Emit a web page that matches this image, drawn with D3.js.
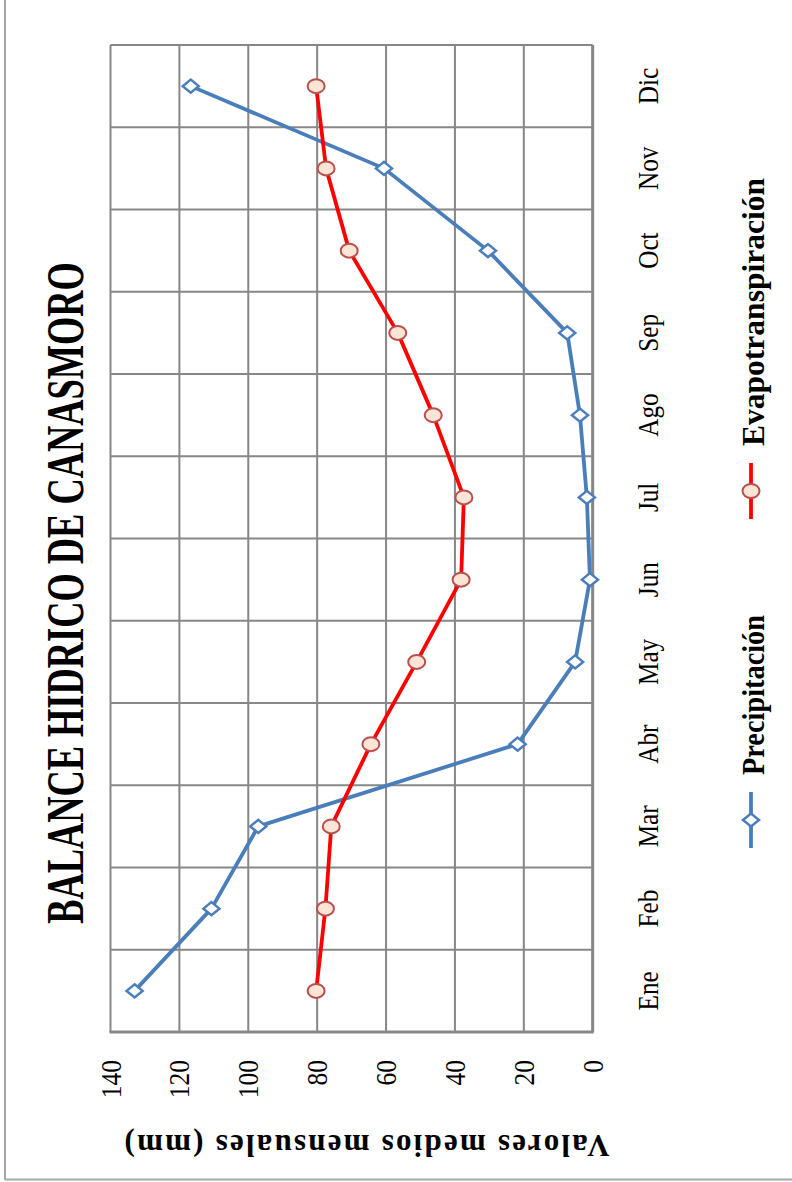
<!DOCTYPE html>
<html>
<head>
<meta charset="utf-8">
<script src="https://cdn.jsdelivr.net/npm/d3@7/dist/d3.min.js"></script>
<style>
  html, body { margin: 0; padding: 0; background: #fff; }
  svg { display: block; }
  text { font-family: "Liberation Serif", "Times New Roman", serif; fill: #000; }
</style>
</head>
<body>
<svg id="chart" width="792" height="1182"></svg>
<script>
// Monthly water balance, Canasmoro (mm)
const months = ["Ene", "Feb", "Mar", "Abr", "May", "Jun", "Jul", "Ago", "Sep", "Oct", "Nov", "Dic"];
const precipitacion = [133.0, 110.7, 97.1, 21.8, 5.1, 0.8, 1.7, 3.7, 7.4, 30.4, 60.6, 116.7];
const evapotranspiracion = [80.3, 77.6, 75.9, 64.4, 51.1, 38.2, 37.4, 46.3, 56.6, 70.7, 77.4, 80.3];
const valueTicks = [0, 20, 40, 60, 80, 100, 120, 140];
const seriesNames = ["Precipitación", "Evapotranspiración"];

const W = 792, H = 1182;
const svg = d3.select("#chart");

// Page frame
svg.append("line").attr("x1", 5).attr("x2", 5).attr("y1", 0).attr("y2", 1180)
  .attr("stroke", "#a6a6a6").attr("stroke-width", 2);
svg.append("line").attr("x1", 5).attr("x2", W).attr("y1", 1179.5).attr("y2", 1179.5)
  .attr("stroke", "#a6a6a6").attr("stroke-width", 2);

// The chart is laid out in landscape and turned a quarter turn counter-clockwise
const g = svg.append("g").attr("transform", `translate(0,${H}) rotate(-90)`);

const plot = { left: 150, right: 1137, top: 110.5, bottom: 592.7 };

const x = d3.scaleBand().domain(months).range([plot.left, plot.right]);
const y = d3.scaleLinear().domain([0, 140]).range([plot.bottom, plot.top]);

const gridColor = "#878787";

// Horizontal gridlines (value)
g.append("g").selectAll("line").data(valueTicks).join("line")
  .attr("x1", plot.left).attr("x2", plot.right)
  .attr("y1", d => y(d)).attr("y2", d => y(d))
  .attr("stroke", gridColor).attr("stroke-width", 2);

// Vertical gridlines at category boundaries
const bounds = months.map(m => x(m)).concat([plot.right]);
g.append("g").selectAll("line").data(bounds).join("line")
  .attr("x1", d => d).attr("x2", d => d)
  .attr("y1", plot.top).attr("y2", plot.bottom)
  .attr("stroke", gridColor).attr("stroke-width", 2);

// Axis lines
g.append("line").attr("x1", plot.left).attr("x2", plot.right)
  .attr("y1", plot.bottom).attr("y2", plot.bottom)
  .attr("stroke", gridColor).attr("stroke-width", 3);
g.append("line").attr("x1", plot.left).attr("x2", plot.left)
  .attr("y1", plot.top - 1).attr("y2", plot.bottom + 1)
  .attr("stroke", gridColor).attr("stroke-width", 3);

// Squeeze glyphs horizontally (condensed typeface look)
function squeeze(sel, k) {
  sel.each(function () {
    const len = this.getComputedTextLength();
    d3.select(this).attr("textLength", len * k).attr("lengthAdjust", "spacingAndGlyphs");
  });
}

// Value axis
const yAxis = g.append("g").attr("transform", `translate(${plot.left},0)`)
  .call(d3.axisLeft(y).tickValues(valueTicks).tickSize(0).tickPadding(28).tickFormat(d3.format("d")));
yAxis.select(".domain").remove();
yAxis.selectAll("text").attr("font-size", 30).attr("font-family", "Liberation Serif").attr("fill", "#000");
squeeze(yAxis.selectAll("text"), 0.85);

// Category axis
const xAxis = g.append("g").attr("transform", `translate(0,${plot.bottom})`)
  .call(d3.axisBottom(x).tickSize(0));
xAxis.select(".domain").remove();
xAxis.selectAll("text").attr("y", 65).attr("dy", 0)
  .attr("font-size", 30).attr("font-family", "Liberation Serif").attr("fill", "#000");
squeeze(xAxis.selectAll("text"), 0.84);

// Series
const cx = (d, i) => x(months[i]) + x.bandwidth() / 2;
const line = d3.line().x((d, i) => cx(d, i)).y(d => y(d));

const blue = "#4a7ebb", red = "#ff0000";
const diamond = "M0,-8L6.5,0L0,8L-6.5,0Z";

g.append("path").datum(precipitacion).attr("d", line)
  .attr("fill", "none").attr("stroke", blue).attr("stroke-width", 3.8).attr("stroke-linejoin", "round");
g.append("g").selectAll("path").data(precipitacion).join("path")
  .attr("d", diamond)
  .attr("transform", (d, i) => `translate(${cx(d, i)},${y(d)})`)
  .attr("fill", "#fff").attr("stroke", blue).attr("stroke-width", 2.5);

g.append("path").datum(evapotranspiracion).attr("d", line)
  .attr("fill", "none").attr("stroke", red).attr("stroke-width", 3.8).attr("stroke-linejoin", "round");
g.append("g").selectAll("ellipse").data(evapotranspiracion).join("ellipse")
  .attr("cx", (d, i) => cx(d, i)).attr("cy", d => y(d))
  .attr("rx", 7).attr("ry", 8.5)
  .attr("fill", "#fce4d6").attr("stroke", "#b9504c").attr("stroke-width", 2);

// Title: condensed by a horizontal scale so its box stays consistent
const title = g.append("text")
  .attr("text-anchor", "middle").attr("font-weight", "bold").attr("font-size", 53)
  .text("BALANCE HIDRICO DE CANASMORO");
const titleLen = title.node().getComputedTextLength();
title.attr("transform", `translate(589,83) scale(${662 / titleLen},1)`);

// Value axis title
g.append("text").attr("transform", "translate(47,367) rotate(-90)")
  .attr("text-anchor", "middle").attr("font-weight", "bold").attr("font-size", 31)
  .attr("textLength", 485).attr("lengthAdjust", "spacing")
  .text("Valores medios mensuales (mm)");

// Legend
const legend = [
  { name: seriesNames[0], at: 362, len: 160 },
  { name: seriesNames[1], at: 691, len: 268 }
];
const lg = g.append("g");
lg.append("line").attr("x1", legend[0].at - 28).attr("x2", legend[0].at + 28)
  .attr("y1", 751).attr("y2", 751).attr("stroke", blue).attr("stroke-width", 3.8);
lg.append("path").attr("d", diamond).attr("transform", `translate(${legend[0].at},751)`)
  .attr("fill", "#fff").attr("stroke", blue).attr("stroke-width", 2.5);
lg.append("line").attr("x1", legend[1].at - 28).attr("x2", legend[1].at + 28)
  .attr("y1", 751).attr("y2", 751).attr("stroke", red).attr("stroke-width", 3.8);
lg.append("ellipse").attr("cx", legend[1].at).attr("cy", 751).attr("rx", 7).attr("ry", 8.5)
  .attr("fill", "#fce4d6").attr("stroke", "#b9504c").attr("stroke-width", 2);
lg.selectAll("text").data(legend).join("text")
  .attr("x", d => d.at + 45).attr("y", 764)
  .attr("font-weight", "bold").attr("font-size", 32)
  .attr("textLength", d => d.len).attr("lengthAdjust", "spacingAndGlyphs")
  .text(d => d.name);
</script>
</body>
</html>
